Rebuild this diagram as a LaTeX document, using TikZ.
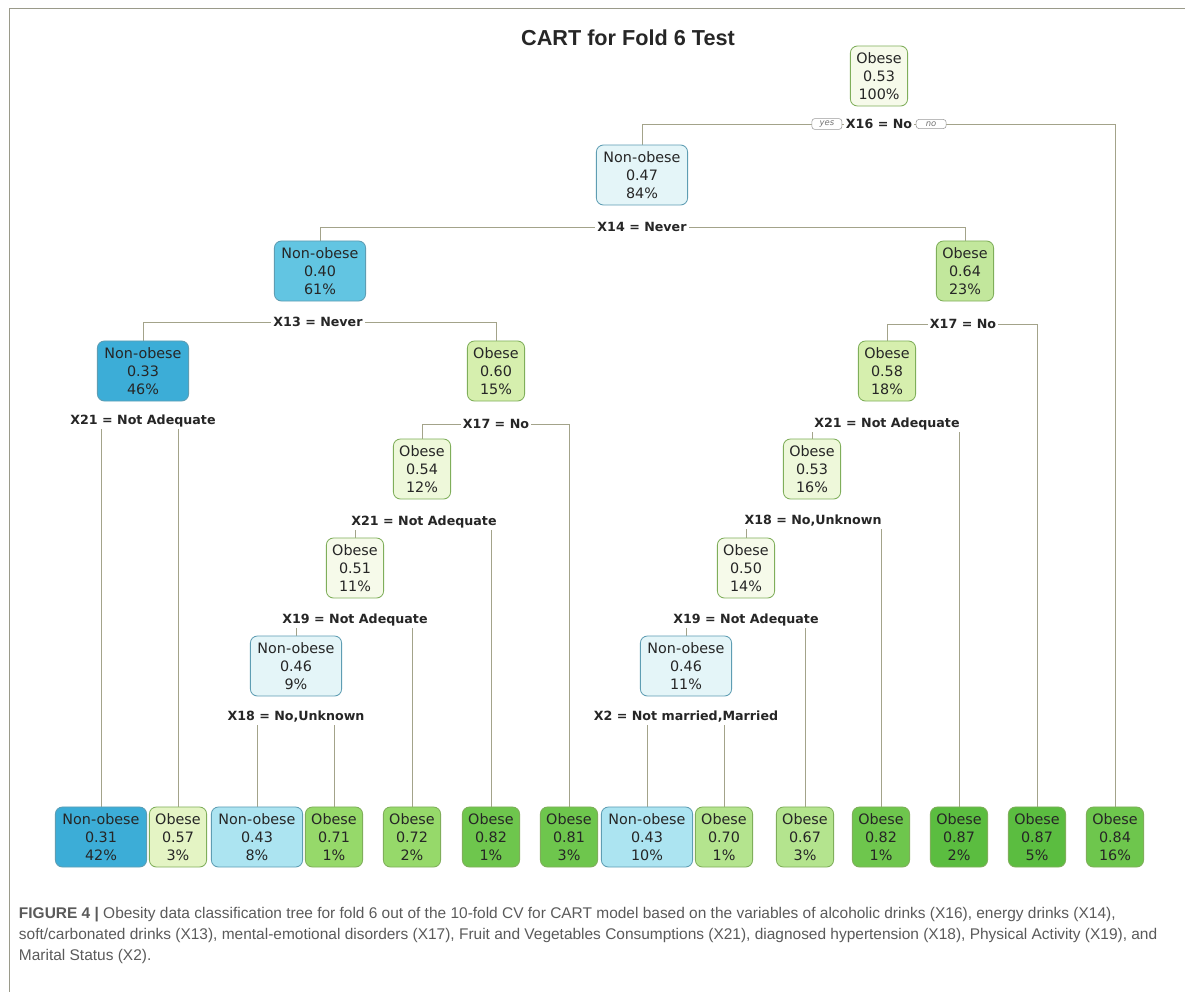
\documentclass[tikz,border=0pt]{standalone}
\usepackage{fontspec}
\setmainfont{DejaVu Sans}
\newfontfamily\capfont{Liberation Sans}
\usetikzlibrary{backgrounds, positioning}
\definecolor{obline}{HTML}{7FAE5A}
\definecolor{nobline}{HTML}{5E9DB3}
\definecolor{linecol}{HTML}{A3A38A}
\definecolor{framecol}{HTML}{9A9A8A}
\definecolor{capcol}{HTML}{5A5A5A}
% fills, pale to strong
\definecolor{gA}{HTML}{F6FAEA}
\definecolor{gB}{HTML}{EEF8DA}
\definecolor{gC}{HTML}{E4F4C4}
\definecolor{gD}{HTML}{D6EFAE}
\definecolor{gE}{HTML}{C2E79C}
\definecolor{gF}{HTML}{B4E48E}
\definecolor{gG}{HTML}{96D96A}
\definecolor{gH}{HTML}{6EC64D}
\definecolor{gI}{HTML}{5BBD40}
\definecolor{bA}{HTML}{E4F5F8}
\definecolor{bB}{HTML}{ACE4F1}
\definecolor{bC}{HTML}{62C5E2}
\definecolor{bD}{HTML}{3CADD7}
\begin{document}
\begin{tikzpicture}[x=0.025cm, y=-0.025cm,
        every node/.style={align=center, text=black!85},
        tnode/.style={draw, rounded corners=5pt, line width=0.6pt, minimum height=1.5cm, inner sep=1pt, font=\fontsize{10.2}{13}\selectfont},
        ob/.style={tnode, draw=obline, minimum width=1.43cm},
        nob/.style={tnode, draw=nobline, minimum width=2.28cm},
        split/.style={fill=white, inner sep=1.5pt, font=\bfseries\fontsize{9}{11}\selectfont},
        yn/.style={draw=black!40, rounded corners=2pt, fill=white, inner sep=1.5pt, minimum width=0.75cm, text=black!55, font=\itshape\fontsize{6}{7}\selectfont},
        branch/.style={draw=linecol, line width=0.5pt}]
    \useasboundingbox (0,0) rectangle (1185,992);
    \draw[framecol, line width=0.6pt] (9,992) -- (9,8) -- (1185,8);
    \node[font=\capfont\bfseries\fontsize{15.4}{17}\selectfont] (title) at (628,38) {CART for Fold 6 Test};

    % inner nodes
    \node[ob, fill=gA] (n1) at (879,76) {Obese\\0.53\\100\%};
    \node[nob, fill=bA] (n2) at (642,175) {Non-obese\\0.47\\84\%};
    \node[nob, fill=bC] (n4) at (320,271) {Non-obese\\0.40\\61\%};
    \node[ob, fill=gE] (n3) at (965,271) {Obese\\0.64\\23\%};
    \node[nob, fill=bD] (n8) at (143,371) {Non-obese\\0.33\\46\%};
    \node[ob, fill=gD] (n9) at (496,371) {Obese\\0.60\\15\%};
    \node[ob, fill=gD] (n6) at (887,371) {Obese\\0.58\\18\%};
    \node[ob, fill=gB] (n19) at (422,469) {Obese\\0.54\\12\%};
    \node[ob, fill=gB] (n12) at (812,469) {Obese\\0.53\\16\%};
    \node[ob, fill=gA] (n38) at (355,568) {Obese\\0.51\\11\%};
    \node[ob, fill=gA] (n24) at (746,568) {Obese\\0.50\\14\%};
    \node[nob, fill=bA] (n76) at (296,666) {Non-obese\\0.46\\9\%};
    \node[nob, fill=bA] (n48) at (686,666) {Non-obese\\0.46\\11\%};

    % leaves
    \node[nob, fill=bD] (l1) at (101,837) {Non-obese\\0.31\\42\%};
    \node[ob, fill=gC] (l2) at (178,837) {Obese\\0.57\\3\%};
    \node[nob, fill=bB] (l3) at (257,837) {Non-obese\\0.43\\8\%};
    \node[ob, fill=gG] (l4) at (334,837) {Obese\\0.71\\1\%};
    \node[ob, fill=gG] (l5) at (412,837) {Obese\\0.72\\2\%};
    \node[ob, fill=gH] (l6) at (491,837) {Obese\\0.82\\1\%};
    \node[ob, fill=gH] (l7) at (569,837) {Obese\\0.81\\3\%};
    \node[nob, fill=bB] (l8) at (647,837) {Non-obese\\0.43\\10\%};
    \node[ob, fill=gF] (l9) at (724,837) {Obese\\0.70\\1\%};
    \node[ob, fill=gF] (l10) at (805,837) {Obese\\0.67\\3\%};
    \node[ob, fill=gH] (l11) at (881,837) {Obese\\0.82\\1\%};
    \node[ob, fill=gI] (l12) at (959,837) {Obese\\0.87\\2\%};
    \node[ob, fill=gI] (l13) at (1037,837) {Obese\\0.87\\5\%};
    \node[ob, fill=gH] (l14) at (1115,837) {Obese\\0.84\\16\%};

    % split labels
    \node[split] (s1) at (879,124) {X16 = No};
    \node[yn, left=1pt of s1] (yes) {yes};
    \node[yn, right=1pt of s1] (no) {no};
    \node[split] (s2) at (642,227) {X14 = Never};
    \node[split] (s4) at (318,322) {X13 = Never};
    \node[split] (s3) at (963,324) {X17 = No};
    \node[split] (s8) at (143,421) {X21 = Not Adequate};
    \node[split] (s9) at (496,424) {X17 = No};
    \node[split] (s6) at (887,424) {X21 = Not Adequate};
    \node[split] (s19) at (424,522) {X21 = Not Adequate};
    \node[split] (s12) at (813,521) {X18 = No,Unknown};
    \node[split] (s38) at (355,620) {X19 = Not Adequate};
    \node[split] (s24) at (746,620) {X19 = Not Adequate};
    \node[split] (s76) at (296,717) {X18 = No,Unknown};
    \node[split] (s48) at (686,717) {X2 = Not married,Married};

    \begin{scope}[on background layer]
        \foreach \s/\a/\b in {s1/n2/l14, s2/n4/n3, s4/n8/n9, s3/n6/l13, s8/l1/l2, s9/n19/l7,
                s6/n12/l12, s19/n38/l6, s12/n24/l11, s38/n76/l5, s24/n48/l10, s76/l3/l4, s48/l8/l9}
            \draw[branch] (\a.north) -- (\a.north |- \s) -- (\b.north |- \s) -- (\b.north);
    \end{scope}

    \node[anchor=north west, align=left, text=capcol, font=\capfont\fontsize{11}{14.9}\selectfont] (cap) at (14,902)
        {\textbf{FIGURE 4 |} Obesity data classification tree for fold 6 out of the 10-fold CV for CART model based on the variables of alcoholic drinks (X16), energy drinks (X14),\\
        soft/carbonated drinks (X13), mental-emotional disorders (X17), Fruit and Vegetables Consumptions (X21), diagnosed hypertension (X18), Physical Activity (X19), and\\
        Marital Status (X2).};
\end{tikzpicture}
\end{document}
